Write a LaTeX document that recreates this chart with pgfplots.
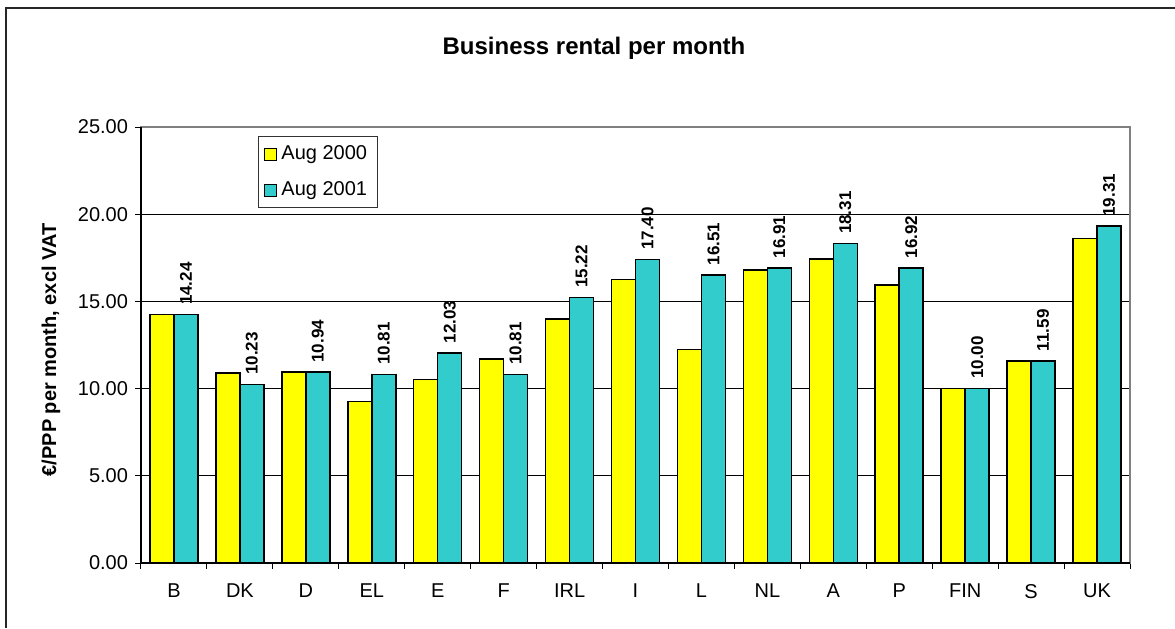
\documentclass[border=0pt]{standalone}
\usepackage{pgfplots}
\pgfplotsset{compat=1.18}
\usepackage{fontspec}
\setmainfont{Liberation Sans}
\definecolor{baryellow}{HTML}{FFFF00}
\definecolor{barteal}{HTML}{33CCCC}
\begin{document}
\begin{tikzpicture}
\path[use as bounding box] (0pt,0pt) rectangle (587.5pt,314pt);
\draw[line width=1pt, black!85] (3pt,0pt) -- (3pt,310pt) -- (587.5pt,310pt);
\node[font=\bfseries\fontsize{12}{14}\selectfont] at (297pt,290pt) {Business rental per month};
\node[font=\bfseries\fontsize{10}{12}\selectfont, rotate=90] at (25.5pt,139pt) {€/PPP per month, excl VAT};
\begin{axis}[
  at={(70.5pt,32.5pt)}, anchor=south west, scale only axis,
  width=494.5pt, height=218pt,
  ymin=0, ymax=25, xmin=-0.5, xmax=14.5,
  ytick={0,5,...,25},
  yticklabel style={/pgf/number format/fixed, /pgf/number format/precision=2, /pgf/number format/zerofill, /pgf/number format/assume math mode=true, font=\fontsize{10}{12}\selectfont},
  xtick={0,...,14},
  xticklabels={B,DK,D,EL,E,F,IRL,I,L,NL,A,P,FIN,S,UK},
  xticklabel style={font=\fontsize{10}{12}\selectfont, yshift=-4pt},
  minor xtick={-0.5,0.5,...,14.5},
  xtick pos=bottom, ytick pos=left,
  tick align=outside,
  major x tick style={draw=none},
  minor x tick style={draw=black, line width=0.5pt},
  minor tick length=3pt,
  major tick length=3pt,
  y tick style={draw=black, line width=0.5pt},
  ymajorgrids, major grid style={black, line width=0.5pt},
  axis line style={draw=gray, line width=1pt},
  ybar, bar width=0.364,
  clip=false,
  legend style={at={(0.118,0.979)}, anchor=north west, draw=black!80, fill=white, line width=0.6pt,
    font=\fontsize{10}{12}\selectfont, inner xsep=3pt, inner ysep=2.5pt, row sep=5.5pt},
  legend cell align=left,
]
\addplot[fill=baryellow, draw=black, line width=0.75pt, bar shift=-0.182,
  legend image code/.code={\draw[fill=baryellow, draw=black, line width=0.6pt] (0pt,-3pt) rectangle (6pt,3pt);}]
  coordinates {(0,14.24) (1,10.89) (2,10.94) (3,9.27) (4,10.53) (5,11.71) (6,13.98) (7,16.26) (8,12.25) (9,16.79) (10,17.42) (11,15.93) (12,10.00) (13,11.59) (14,18.61)};
\addplot[fill=barteal, draw=black, line width=0.75pt, bar shift=0.182,
  nodes near coords,
  nodes near coords style={/pgf/number format/fixed, /pgf/number format/precision=2, /pgf/number format/zerofill, /pgf/number format/assume math mode=true},
  every node near coord/.append style={rotate=90, anchor=west, font=\bfseries\fontsize{8.5}{10}\selectfont, inner sep=4.5pt},
  legend image code/.code={\draw[fill=barteal, draw=black, line width=0.6pt] (0pt,-3pt) rectangle (6pt,3pt);}]
  coordinates {(0,14.24) (1,10.23) (2,10.94) (3,10.81) (4,12.03) (5,10.81) (6,15.22) (7,17.40) (8,16.51) (9,16.91) (10,18.31) (11,16.92) (12,10.00) (13,11.59) (14,19.31)};
\legend{Aug 2000, Aug 2001}
\draw[black, line width=1pt] (rel axis cs:0,1) -- (rel axis cs:0,0) -- (rel axis cs:1,0);
\end{axis}
\end{tikzpicture}
\end{document}
